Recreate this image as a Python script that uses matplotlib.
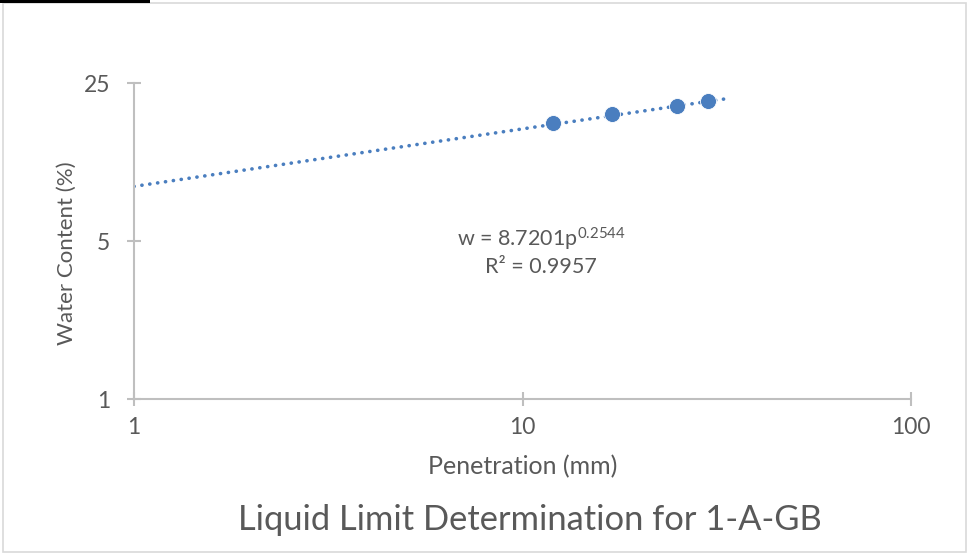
import numpy as np
import matplotlib
matplotlib.use("Agg")
import matplotlib.pyplot as plt
from matplotlib.patches import Rectangle
from matplotlib.ticker import FixedLocator, FixedFormatter, NullLocator

# measured points (penetration in mm, water content in %)
penetration = [12, 17, 25, 30]
water_content = [16.6, 18.2, 19.8, 20.8]

# Excel power trendline as printed on the chart
coef_a = 8.7201
coef_b = 0.2544
r_squared = 0.9957
trend_range = [1, 34]

x_ticks = [1, 10, 100]
y_ticks = [1, 5, 25]

title = "Liquid Limit Determination for 1-A-GB"
x_label = "Penetration (mm)"
y_label = "Water Content (%)"

blue = "#4A7EBF"
grey_txt = "#595959"
grey_axis = "#BFBFBF"

plt.rcParams['font.family'] = ['Lato', 'DejaVu Sans']
plt.rcParams['mathtext.default'] = 'regular'

fig = plt.figure(figsize=(9.68, 5.55), dpi=100)
ax = fig.add_axes([134/968, 1-399/555, 777/968, 316/555])

xt = np.logspace(np.log10(trend_range[0]), np.log10(trend_range[1]), 200)
ax.plot(xt, coef_a * xt**coef_b, color=blue, lw=2.6,
        linestyle=(0, (0.05, 2.15)), dash_capstyle='round', zorder=2)
ax.plot(penetration, water_content, 'o', color=blue, markersize=11.5,
        markeredgecolor='white', markeredgewidth=0.6, zorder=3)

ax.set_xscale('log')
ax.set_yscale('log', base=5)
ax.set_xlim(1, 100)
ax.set_ylim(1, 25)
ax.xaxis.set_major_locator(FixedLocator(x_ticks))
ax.xaxis.set_major_formatter(FixedFormatter([str(v) for v in x_ticks]))
ax.xaxis.set_minor_locator(NullLocator())
ax.yaxis.set_major_locator(FixedLocator(y_ticks))
ax.yaxis.set_major_formatter(FixedFormatter([str(v) for v in y_ticks]))
ax.yaxis.set_minor_locator(NullLocator())

for s in ['top', 'right']:
    ax.spines[s].set_visible(False)
for s in ['left', 'bottom']:
    ax.spines[s].set_color(grey_axis)
    ax.spines[s].set_linewidth(1.5)
ax.tick_params(axis='both', direction='inout', length=10, width=1.5,
               color=grey_axis, labelcolor=grey_txt, labelsize=16.5)
ax.tick_params(axis='x', pad=8)
ax.tick_params(axis='y', pad=12)

ax.set_xlabel(x_label, fontsize=18, color=grey_txt, labelpad=12)
ax.set_ylabel(y_label, fontsize=16, color=grey_txt)
ax.yaxis.set_label_coords(-0.074, 0.462)

ax.text(0.524, 0.505, r"w = 8.7201p$^{%.4f}$" % coef_b, transform=ax.transAxes,
        ha='center', va='center', fontsize=15.5, color=grey_txt)
ax.text(0.524, 0.418, "R² = %.4f" % r_squared, transform=ax.transAxes,
        ha='center', va='center', fontsize=15.5, color=grey_txt)

fig.text(530/968, 1-520/555, title, ha='center', va='center',
         fontsize=24.8, color=grey_txt)

# chart border and the black strip at the top left
fig.add_artist(Rectangle((3/968, 3/555), 963/968, 549/555, transform=fig.transFigure,
                         fill=False, edgecolor='#D9D9D9', lw=1.2))
fig.add_artist(Rectangle((0, 1-3/555), 150/968, 3/555, transform=fig.transFigure,
                         color='black', lw=0))

fig.savefig("out.png", dpi=100)
